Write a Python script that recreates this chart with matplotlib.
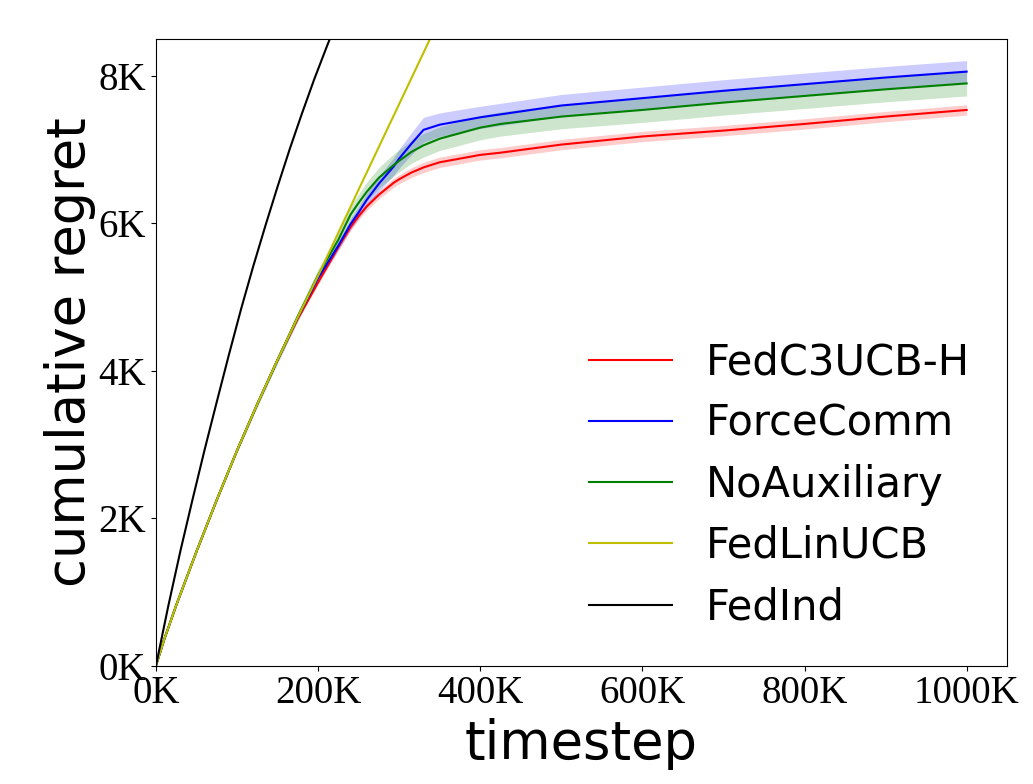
import numpy as np
import matplotlib
matplotlib.use('Agg')
import matplotlib.pyplot as plt
from matplotlib.ticker import FuncFormatter

# timesteps in thousands, regret in thousands
steps = [0, 10, 25, 50, 75, 100, 125, 150, 175, 200, 225, 240, 250, 260, 275,
         293, 300, 315, 330, 350, 400, 425, 500, 600, 700, 800, 900, 1000]

fedc3 = [0, 0.35, 0.82, 1.55, 2.25, 2.92, 3.55, 4.15, 4.71, 5.20, 5.68, 5.95,
         6.10, 6.23, 6.39, 6.55, 6.60, 6.69, 6.76, 6.83, 6.93, 6.96, 7.07,
         7.18, 7.26, 7.35, 7.45, 7.54]
fedc3_std = [0, 0.003, 0.006, 0.01, 0.01, 0.012, 0.015, 0.02, 0.025, 0.03, 0.04,
             0.045, 0.05, 0.052, 0.055, 0.06, 0.06, 0.065, 0.07, 0.07, 0.07,
             0.07, 0.07, 0.07, 0.07, 0.07, 0.07, 0.07]

force = [0, 0.35, 0.82, 1.55, 2.25, 2.92, 3.55, 4.15, 4.73, 5.26, 5.70, 5.99,
         6.15, 6.32, 6.54, 6.77, 6.88, 7.08, 7.27, 7.34, 7.44, 7.48, 7.60,
         7.70, 7.80, 7.89, 7.98, 8.06]
force_std = [0, 0.005, 0.01, 0.015, 0.02, 0.02, 0.03, 0.035, 0.04, 0.05, 0.065,
             0.075, 0.08, 0.09, 0.1, 0.12, 0.13, 0.15, 0.17, 0.16, 0.15, 0.15,
             0.15, 0.15, 0.15, 0.15, 0.15, 0.15]

noaux = [0, 0.35, 0.82, 1.55, 2.25, 2.92, 3.55, 4.15, 4.74, 5.30, 5.78, 6.12,
         6.28, 6.43, 6.62, 6.79, 6.85, 6.97, 7.06, 7.15, 7.30, 7.35, 7.45,
         7.54, 7.64, 7.73, 7.82, 7.90]
noaux_std = [0, 0.005, 0.01, 0.015, 0.02, 0.03, 0.04, 0.05, 0.065, 0.08, 0.1,
             0.11, 0.12, 0.13, 0.14, 0.15, 0.15, 0.155, 0.16, 0.16, 0.165,
             0.165, 0.165, 0.17, 0.17, 0.17, 0.17, 0.17]

lin_steps = [0, 10, 25, 50, 75, 100, 125, 150, 175, 200, 250, 300, 350]
fedlin = [0, 0.35, 0.82, 1.55, 2.25, 2.92, 3.55, 4.15, 4.73, 5.29, 6.46, 7.62, 8.78]

ind_steps = [0, 15, 30, 45, 60, 75, 90, 105, 120, 135, 150, 165, 180, 195, 210, 225]
fedind = [0, 0.8, 1.55, 2.25, 2.93, 3.58, 4.22, 4.84, 5.42, 5.97, 6.50, 7.01,
          7.49, 7.95, 8.38, 8.8]

fig = plt.figure(figsize=(10.33, 7.84), dpi=100)
ax = fig.add_axes([0.151, 0.151, 0.824, 0.799])

x = np.array(steps) * 1000
for vals, std, c, name in [(fedc3, fedc3_std, 'r', 'FedC3UCB-H'),
                           (force, force_std, 'b', 'ForceComm'),
                           (noaux, noaux_std, 'g', 'NoAuxiliary')]:
    m = np.array(vals) * 1000
    s = np.array(std) * 1000
    ax.plot(x, m, color=c, label=name)
    ax.fill_between(x, m - s, m + s, color=c, alpha=0.2, linewidth=0)

ax.plot(np.array(lin_steps) * 1000, np.array(fedlin) * 1000, color='y', label='FedLinUCB')
ax.plot(np.array(ind_steps) * 1000, np.array(fedind) * 1000, color='k', label='FedInd')

ax.set_xlim(0, 1050000)
ax.set_ylim(0, 8500)
ax.set_xticks([0, 200000, 400000, 600000, 800000, 1000000])
ax.set_yticks([0, 2000, 4000, 6000, 8000])
fmt = FuncFormatter(lambda v, p: '%dK' % round(v / 1000))
ax.xaxis.set_major_formatter(fmt)
ax.yaxis.set_major_formatter(fmt)
for lab in ax.get_xticklabels() + ax.get_yticklabels():
    lab.set_fontfamily('Liberation Serif')
    lab.set_fontsize(28)

ax.set_xlabel('timestep', fontsize=38)
ax.set_ylabel('cumulative regret', fontsize=38, labelpad=2)
ax.legend(loc='lower right', frameon=False, fontsize=30, labelspacing=0.46)

fig.savefig('out.png', dpi=100)
